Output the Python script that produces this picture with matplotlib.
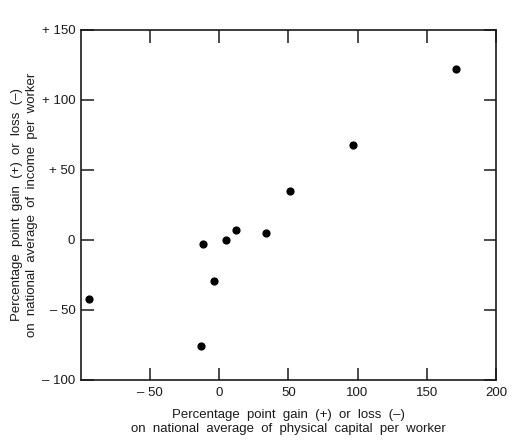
import numpy as np
import matplotlib.pyplot as plt

#------------------------------------------------------------------------------
# data

capital_gain = [-94, -13, -12, -4, 5, 12, 34, 51, 97, 171]
income_gain  = [-42, -76, -3, -29, 0, 7, 5, 35, 68, 122]

xticks = [-50, 0, 50, 100, 150, 200]
xtick_labels = ['\u2013 50', '0', '50', '100', '150', '200']
yticks = [-100, -50, 0, 50, 100, 150]
ytick_labels = ['\u2013 100', '\u2013 50', '0', '+ 50', '+ 100', '+ 150']

#------------------------------------------------------------------------------

plt.rcParams['font.family'] = ['Liberation Sans', 'DejaVu Sans']
ink = '#1a1a1a'

fig = plt.figure(figsize=(5.22, 4.46), dpi=100)
ax = fig.add_axes([0.155, 0.148, 0.795, 0.785])

ax.scatter(capital_gain, income_gain, s=24, color='black', zorder=3)

ax.set_xlim(-100, 200)
ax.set_ylim(-100, 150)

ax.set_xticks(xticks)
ax.set_xticklabels(xtick_labels)
ax.set_yticks(yticks)
ax.set_yticklabels(ytick_labels)

ax.tick_params(direction='in', length=9, width=1.1, colors=ink,
               labelsize=9.5, top=True, right=True, pad=5)
ax.tick_params(axis='y', pad=4)
for sp in ax.spines.values():
    sp.set_linewidth(1.2)
    sp.set_color(ink)

ax.set_xlabel('Percentage  point  gain  (+)  or  loss  (\u2013)\n'
              'on  national  average  of  physical  capital  per  worker',
              fontsize=9.5, color=ink, labelpad=7, linespacing=1.25)
ax.set_ylabel('Percentage  point  gain  (+)  or  loss  (\u2013)\n'
              'on  national  average  of  income  per  worker',
              fontsize=9.5, color=ink, labelpad=3, linespacing=1.25)

fig.savefig('out.png', dpi=100)
